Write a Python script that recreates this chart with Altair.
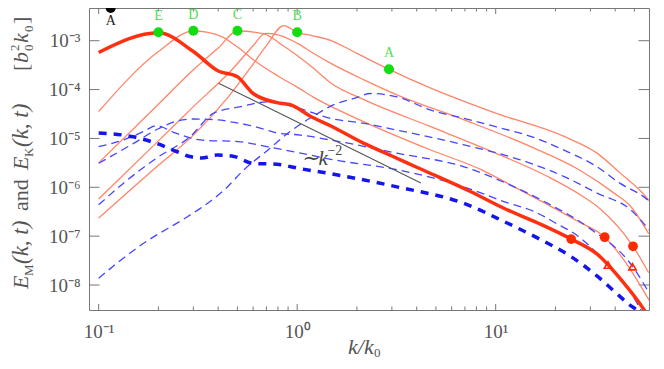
import altair as alt
import pandas as pd

# ---------------- data (k/k0 , spectrum) ----------------
# E_M thick (latest time, peak E)
R1_K = [0.1, 0.2, 0.3, 0.4, 0.5, 0.6, 0.82, 0.925, 1.17, 1.47, 2.17, 3.0, 4.0, 7.5, 11, 16.3, 24, 32.7, 42.8, 56, 60]
R1_E = [5.75e-4, 1.45e-3, 6.0e-4, 2.4e-4, 1.82e-4, 8.3e-5, 5.25e-5, 4.9e-5, 2.82e-5, 1.82e-5, 7.9e-6, 4.37e-6, 2.57e-6, 8.1e-7, 3.72e-7, 1.86e-7, 8.7e-8, 4.17e-8, 1.29e-8, 3.09e-9, 2.0e-9]
# E_M thin
R2_K = [0.1, 0.2, 0.3, 0.35, 0.42, 0.5, 0.63, 0.8, 1.0, 1.2, 1.47, 2.17, 4.71, 8.44, 12.4, 18.3, 26, 35.4, 43, 54, 60]
R2_E = [3.55e-5, 6.0e-4, 1.58e-3, 1.5e-3, 1.2e-3, 7.4e-4, 3.55e-4, 1.9e-4, 1.12e-4, 7.1e-5, 4.57e-5, 2.19e-5, 5.8e-6, 2.3e-6, 1.02e-6, 4.4e-7, 2.0e-7, 9.5e-8, 3.8e-8, 9.3e-9, 4.5e-9]
R3_K = [0.1, 0.2, 0.29, 0.4, 0.5, 0.68, 0.85, 1.0, 1.2, 1.47, 2.17, 4.71, 10, 18.3, 27.5, 33.4, 49.2, 59]
R3_E = [3.16e-6, 5.0e-5, 2.24e-4, 7.1e-4, 1.58e-3, 1.38e-3, 7.9e-4, 5.0e-4, 2.8e-4, 1.38e-4, 6.2e-5, 1.74e-5, 5.0e-6, 1.66e-6, 6.5e-7, 3.7e-7, 6.2e-8, 1.78e-8]
R4_K = [0.1, 0.2, 0.3, 0.46, 0.6, 0.69, 0.8, 1.0, 1.2, 1.47, 2.17, 3.18, 6.93, 15, 26.3, 39.5, 47.8, 59]
R4_E = [5.75e-7, 8.9e-6, 4.47e-5, 2.34e-4, 7.9e-4, 1.41e-3, 1.32e-3, 8.9e-4, 5.6e-4, 3.47e-4, 1.58e-4, 7.8e-5, 2.4e-5, 6.8e-6, 2.29e-6, 7.6e-7, 4.1e-7, 1.12e-7]
R5_K = [0.1, 0.2, 0.3, 0.45, 0.58, 0.7, 0.855, 1.0, 1.2, 1.47, 2.0, 2.9, 4.71, 10, 22.1, 32.4, 42.4, 56.9, 60]
R5_E = [2.34e-7, 2.82e-6, 1.17e-5, 7.1e-5, 2.75e-4, 7.9e-4, 2.04e-3, 1.48e-3, 1.26e-3, 1.02e-3, 5.5e-4, 2.6e-4, 1.07e-4, 3.3e-5, 1.1e-5, 5.0e-6, 1.95e-6, 6.5e-7, 5.0e-7]
# E_K thick dashed
B1_K = [0.1, 0.149, 0.196, 0.247, 0.288, 0.33, 0.395, 0.48, 0.6, 0.79, 1.04, 1.47, 3.18, 6.93, 11, 16.3, 24, 32.7, 40.5, 47, 53, 60]
B1_E = [1.29e-5, 1.08e-5, 7.9e-6, 5.4e-6, 4.27e-6, 3.98e-6, 4.57e-6, 4.27e-6, 3.09e-6, 2.95e-6, 2.4e-6, 1.9e-6, 1.02e-6, 4.68e-7, 2.0e-7, 9.1e-8, 3.8e-8, 1.48e-8, 6.8e-9, 4.0e-9, 2.8e-9, 1.58e-9]
# E_K thin dashed
B2_K = [0.1, 0.133, 0.168, 0.196, 0.24, 0.326, 0.52, 0.705, 1.04, 1.5, 3.18, 6.93, 11, 16.3, 20, 26, 36.8, 45, 52, 60]
B2_E = [6.8e-6, 9.3e-6, 1.38e-5, 1.82e-5, 1.32e-5, 9.3e-6, 8.5e-6, 6.8e-6, 5.0e-6, 3.7e-6, 2.29e-6, 1.02e-6, 5.1e-7, 2.95e-7, 1.86e-7, 1.0e-7, 2.57e-8, 1.0e-8, 4.0e-9, 1.26e-9]
B3_K = [0.1, 0.15, 0.2, 0.25, 0.3, 0.4, 0.46, 0.56, 0.705, 0.79, 1.04, 1.47, 3.18, 6.93, 12.4, 18.3, 30, 48.9, 60]
B3_E = [3.1e-6, 7.9e-6, 1.58e-5, 2.29e-5, 2.5e-5, 2.4e-5, 2.19e-5, 1.9e-5, 1.48e-5, 1.29e-5, 1.17e-5, 9.3e-6, 5.0e-6, 2.63e-6, 1.02e-6, 4.68e-7, 1.41e-7, 2.4e-8, 6.3e-9]
B4_K = [0.1, 0.133, 0.196, 0.29, 0.38, 0.52, 0.705, 0.96, 1.47, 2.17, 3.18, 6.93, 15, 22.1, 32.4, 47.8, 60]
B4_E = [4.37e-7, 1.2e-6, 3.98e-6, 1.1e-5, 3.3e-5, 4.47e-5, 5.6e-5, 4.47e-5, 2.57e-5, 2.04e-5, 1.48e-5, 7.4e-6, 3.1e-6, 1.66e-6, 7.6e-7, 3.47e-7, 1.26e-7]
B5_K = [0.1, 0.16, 0.28, 0.325, 0.43, 0.54, 0.71, 0.92, 1.2, 1.53, 1.94, 2.34, 3.18, 4.71, 6.93, 10, 15, 22.1, 32.4, 42.4, 56.9, 60]
B5_E = [1.38e-8, 6.2e-8, 2.5e-7, 3.7e-7, 8.9e-7, 2.29e-6, 5.75e-6, 1.38e-5, 2.82e-5, 4.9e-5, 6.6e-5, 8.3e-5, 7.1e-5, 3.8e-5, 2.57e-5, 1.74e-5, 1.1e-5, 5.75e-6, 2.63e-6, 1.2e-6, 6.0e-7, 5.0e-7]

# markers
GREEN_K = [0.2, 0.3, 0.5, 1.0, 2.9]
GREEN_E = [1.49e-3, 1.6e-3, 1.6e-3, 1.49e-3, 2.6e-4]
GREEN_LBL = ["E", "D", "C", "B", "A"]
BLACK_K = [0.115]
BLACK_E = [4.67e-3]
BLACK_LBL = ["A"]
DOT_K = [24, 35.4, 49.2]
DOT_E = [8.7e-8, 9.5e-8, 6.2e-8]
TRI_K = [36.8, 48.9]
TRI_E = [2.57e-8, 2.37e-8]
# k^-2 guide line and its label
SLOPE_K = [0.402, 4.2]
SLOPE_E = [1.35e-4, 1.22e-6]
NOTE_K = [1.04, 1.42]
NOTE_E = [2.86e-6, 4.58e-6]
NOTE_TXT = ["\u223ck", "\u22122"]

# axis ticks
X_MAJOR = [0.1, 1, 10]
X_MINOR = [0.2, 0.3, 0.4, 0.5, 0.6, 0.7, 0.8, 0.9, 2, 3, 4, 5, 6, 7, 8, 9, 20, 30, 40, 50]
Y_MAJOR = [1e-8, 1e-7, 1e-6, 1e-5, 1e-4, 1e-3]

# ---------------- chart ----------------
W, H = 560, 302
FONT = "Liberation Serif"
AX = "#777777"
XS = alt.Scale(type="log", domain=[0.0894, 59.2], nice=False)
YS = alt.Scale(type="log", domain=[3.08e-9, 4.67e-3], nice=False)

X_LABELS = "datum.value < 0.5 ? '10\u207b\u00b9' : datum.value < 5 ? '10\u2070' : '10\u00b9'"
Y_LABELS = ("datum.value >= 5e-4 ? '10\u207b\u00b3' : datum.value >= 5e-5 ? '10\u207b\u2074' : "
            "datum.value >= 5e-6 ? '10\u207b\u2075' : datum.value >= 5e-7 ? '10\u207b\u2076' : "
            "datum.value >= 5e-8 ? '10\u207b\u2077' : '10\u207b\u2078'")
XA = alt.Axis(values=X_MAJOR, labelExpr=X_LABELS, title=None, labelPadding=12)
YA = alt.Axis(values=Y_MAJOR, labelExpr=Y_LABELS, title=None, labelPadding=9)


def X():
    return alt.X("k:Q", scale=XS, axis=XA)


def Y():
    return alt.Y("E:Q", scale=YS, axis=YA)


def frame(ks, es):
    return pd.DataFrame({"k": ks, "E": es})


def line(ks, es, color, width, dash=None, clip=True, interp="monotone"):
    m = dict(color=color, strokeWidth=width, clip=clip, interpolate=interp)
    if dash:
        m["strokeDash"] = dash
    return alt.Chart(frame(ks, es)).mark_line(**m).encode(x=X(), y=Y())


layers = []

# inward ticks
xt_maj = pd.DataFrame({"k": X_MAJOR})
xt_min = pd.DataFrame({"k": X_MINOR})
yt = pd.DataFrame({"E": Y_MAJOR})
for d, L in ((xt_maj, 6), (xt_min, 3.5)):
    layers.append(alt.Chart(d).mark_rule(color=AX, strokeWidth=1).encode(
        x=X(), y=alt.value(H), y2=alt.value(H - L)))
    layers.append(alt.Chart(d).mark_rule(color=AX, strokeWidth=1).encode(
        x=X(), y=alt.value(0), y2=alt.value(L)))
layers.append(alt.Chart(yt).mark_rule(color=AX, strokeWidth=1).encode(
    y=Y(), x=alt.value(0), x2=alt.value(10.5)))
layers.append(alt.Chart(yt).mark_rule(color=AX, strokeWidth=1).encode(
    y=Y(), x=alt.value(W), x2=alt.value(W - 10.5)))

# spectra
THIN_RED = "#ff8568"
THIN_BLUE = "#4646ff"
for ks, es in ((R2_K, R2_E), (R3_K, R3_E), (R4_K, R4_E), (R5_K, R5_E)):
    layers.append(line(ks, es, THIN_RED, 1.3))
for ks, es in ((B2_K, B2_E), (B3_K, B3_E), (B4_K, B4_E), (B5_K, B5_E)):
    layers.append(line(ks, es, THIN_BLUE, 1.3, [8, 5]))
layers.append(line(B1_K, B1_E, "#1414ee", 3.5, [8, 7]))
layers.append(line(R1_K, R1_E, "#ff3010", 3.5))
layers.append(line(SLOPE_K, SLOPE_E, "#555555", 1.1, clip=False, interp="linear"))

# markers
green = pd.DataFrame({"k": GREEN_K, "E": GREEN_E, "t": GREEN_LBL})
layers.append(alt.Chart(green).mark_point(shape="circle", filled=True, size=100, color="#11dd11", opacity=1).encode(x=X(), y=Y()))
layers.append(alt.Chart(green).mark_text(font=FONT, fontSize=14, color="#55dd55", dy=-16).encode(x=X(), y=Y(), text="t:N"))
black = pd.DataFrame({"k": BLACK_K, "E": BLACK_E, "t": BLACK_LBL})
layers.append(alt.Chart(black).mark_point(shape="circle", filled=True, size=100, color="#000000", opacity=1).encode(x=X(), y=Y()))
layers.append(alt.Chart(black).mark_text(font=FONT, fontSize=14, color="#222222", dy=13).encode(x=X(), y=Y(), text="t:N"))
layers.append(alt.Chart(frame(DOT_K, DOT_E)).mark_point(shape="circle", filled=True, size=95, color="#ff2a00", opacity=1).encode(x=X(), y=Y()))
layers.append(alt.Chart(frame(TRI_K, TRI_E)).mark_point(shape="triangle-up", filled=False, size=55, color="#ff2a00", strokeWidth=1.6, opacity=1).encode(x=X(), y=Y()))

# ~k^-2 note
note = pd.DataFrame({"k": NOTE_K, "E": NOTE_E, "t": NOTE_TXT})
layers.append(alt.Chart(note.iloc[[0]]).mark_text(font=FONT, fontSize=21, fontStyle="italic", color="#444444", align="left", baseline="alphabetic").encode(x=X(), y=Y(), text="t:N"))
layers.append(alt.Chart(note.iloc[[1]]).mark_text(font=FONT, fontSize=14, color="#444444", align="left", baseline="alphabetic").encode(x=X(), y=Y(), text="t:N"))


def txt(t, px, py, size, italic=False, angle=0):
    m = dict(text=t, align="left", baseline="alphabetic", font=FONT, fontSize=size, color="#555555")
    if italic:
        m["fontStyle"] = "italic"
    if angle:
        m["angle"] = angle
    return alt.Chart(pd.DataFrame({"a": [0]})).mark_text(**m).encode(x=alt.value(px), y=alt.value(py))


# y title:  E_M(k,t)  and  E_K(k,t)   [b0^2 k0]   (rotated)
BX, SUBX, SUPX = -61, -56, -70
layers += [
    txt("E", BX, 281, 22, True, 270),
    txt("M", SUBX, 268, 13, False, 270),
    txt("(k, t)", BX, 256, 23, True, 270),
    txt("and", BX, 203, 22, False, 270),
    txt("E", BX, 162, 22, True, 270),
    txt("K", SUBX, 149, 13, False, 270),
    txt("(k, t)", BX, 139, 23, True, 270),
    txt("[", BX, 63, 22, False, 270),
    txt("b", BX, 55, 22, True, 270),
    txt("0", SUBX, 43, 13, False, 270),
    txt("2", SUPX, 43, 13, False, 270),
    txt("k", BX, 35, 22, True, 270),
    txt("0", SUBX, 24, 13, False, 270),
    txt("]", BX, 16, 22, False, 270),
]
# x title k/k0
layers += [
    txt("k/k", 259, 346, 22, True),
    txt("0", 285, 349, 13, False),
]

chart = alt.layer(*layers).properties(
    width=W, height=H,
    padding={"left": 81, "top": 0, "right": 7, "bottom": 49},
    autosize=alt.AutoSizeParams(type="none"),
).configure_view(stroke=AX, strokeWidth=1).configure_axis(
    domain=False, ticks=False, grid=False,
    labelFont=FONT, labelFontSize=19, labelColor="#555555",
)

chart.save("out.html", embed_options={"renderer": "svg", "actions": False})
